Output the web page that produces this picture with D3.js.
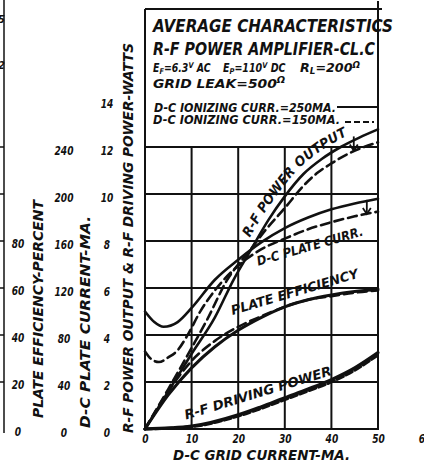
<!DOCTYPE html>
<html><head><meta charset="utf-8">
<script src="https://cdn.jsdelivr.net/npm/d3@7"></script>
<style>
body{margin:0;background:#fff;}
svg text{font-family:"DejaVu Sans Condensed","DejaVu Sans",sans-serif;font-style:italic;font-weight:bold;fill:#111;}
</style></head><body>
<svg id="c" width="424" height="471"></svg>
<script>
// ---------- data ----------
const gridTicks  = [0,10,20,30,40,50,60];        // D-C grid current, mA
const wattTicks  = [0,2,4,6,8,10,12,14];         // watts
const plateTicks = [0,40,80,120,160,200,240];    // plate current, mA
const effTicks   = [0,20,40,60,80];              // percent

// R-F power output (W)
const powerSolidX  = [0,5,10,15,19,22.5,26.5,30,34,38,42,46,50];
const powerSolidW  = [0,1.6,3.2,4.75,6.35,7.55,8.9,9.9,10.85,11.5,12.0,12.4,12.75];
const powerDashX   = [0,5,10,13.3,17.5,22.5,26,30,34,37,40,44,47,50];
const powerDashW   = [0,1.7,3.45,4.64,6.3,7.6,8.5,9.4,10.35,10.9,11.3,11.75,12.0,12.2];
// D-C plate current (mA)
const plateSolidX  = [0,2,4,7,10,15,20,25,30,35,40,45,50];
const plateSolidI  = [100,91,87,91,103,127,144,159,171,180,187,192,196];
const plateDashX   = [0,1.5,3,5,7,9,12,15,20,25,30,35,40,45,50];
const plateDashI   = [66,59,57,61,67,79,101,118,139,153,162,170,176,181,185];
// Plate efficiency (%)
const effX         = [0,5,10,15,20,25,30,35,40,45,50];
const effSolid     = [0,14.5,26,35,42,47.5,52,55,57,58.5,59.5];
const effDash      = [0,16,29,37.5,43.5,48,52,55,56.5,58,59];
// R-F driving power (W)
const driveX       = [0,10,20,25,30,35,40,45,50];
const driveSolid   = [0,0.12,0.6,0.95,1.33,1.7,2.1,2.6,3.25];
const driveDash    = [0,0.1,0.55,0.88,1.25,1.62,2.0,2.5,3.15];

const titleLines = ["AVERAGE CHARACTERISTICS","R-F POWER AMPLIFIER-CL.C"];
const legendSolid = "D-C IONIZING CURR.=250MA.";
const legendDash  = "D-C IONIZING CURR.=150MA.";

// ---------- scales ----------
const svg = d3.select("#c");
const x  = d3.scaleLinear().domain([0,50]).range([145,378]);
const yW = d3.scaleLinear().domain([0,14]).range([429,100]);
const yI = d3.scaleLinear().domain([0,280]).range([429,100]);
const yE = d3.scaleLinear().domain([0,140]).range([429,100]);
const boxTop = 9;
const ink = "#111";

const zip = (xs, ys) => xs.map((v,i)=>[v, ys[i]]);

// ---------- left page fragment ----------
svg.append("line").attr("x1",4).attr("x2",4).attr("y1",0).attr("y2",433)
  .attr("stroke",ink).attr("stroke-width",1.5);
svg.append("g").selectAll("line").data(wattTicks.filter(d=>d>0&&d<=12)).join("line")
  .attr("x1",0).attr("x2",4).attr("y1",d=>yW(d)).attr("y2",d=>yW(d))
  .attr("stroke",ink).attr("stroke-width",1.5);
svg.append("text").attr("x",-2).attr("y",23).attr("font-size",11).attr("font-weight","normal").text("5");
svg.append("text").attr("x",-2).attr("y",69).attr("font-size",11).attr("font-weight","normal").text("2");

// ---------- grid ----------
const g = svg.append("g").attr("stroke",ink).attr("stroke-width",2);
g.selectAll("line.v").data(gridTicks.filter(d=>d>0&&d<50)).join("line")
  .attr("x1",d=>x(d)).attr("x2",d=>x(d)).attr("y1",yW(12)).attr("y2",yW(0));
g.selectAll("line.h").data(wattTicks.filter(d=>d>0&&d<=12)).join("line")
  .attr("x1",x(0)).attr("x2",x(50)).attr("y1",d=>yW(d)).attr("y2",d=>yW(d));
g.append("line").attr("x1",x(0)).attr("x2",x(0)).attr("y1",boxTop).attr("y2",yW(0)+1);
g.append("line").attr("x1",x(50)).attr("x2",x(50)).attr("y1",boxTop-8).attr("y2",yW(0)+1);
g.append("line").attr("x1",x(0)).attr("x2",x(50)+4).attr("y1",boxTop).attr("y2",boxTop);
g.append("line").attr("x1",x(0)).attr("x2",x(50)).attr("y1",yW(0)).attr("y2",yW(0));

// ---------- axes ----------
function styleAxis(sel){
  sel.select(".domain").remove();
  sel.selectAll("text").attr("text-anchor","middle").attr("font-size",12.5)
     .attr("font-family",null).attr("fill",ink)
     .attr("textLength",function(){ return this.textContent.length*6.3; })
     .attr("lengthAdjust","spacingAndGlyphs");
}
svg.append("g").attr("transform",`translate(0,${yW(0)})`)
  .call(d3.axisBottom(x).tickValues(gridTicks).tickSize(0).tickPadding(5))
  .call(styleAxis);
svg.append("g").attr("transform","translate(107,3)")
  .call(d3.axisLeft(yW).tickValues(wattTicks).tickSize(0).tickPadding(0))
  .call(styleAxis);
svg.append("g").attr("transform","translate(64,3)")
  .call(d3.axisLeft(yI).tickValues(plateTicks).tickSize(0).tickPadding(0))
  .call(styleAxis);
svg.append("g").attr("transform","translate(18,2)")
  .call(d3.axisLeft(yE).tickValues(effTicks).tickSize(0).tickPadding(0))
  .call(styleAxis);

// axis titles
function vTitle(tx, ty, len, txt){
  svg.append("text").attr("transform",`translate(${tx},${ty}) rotate(-90)`)
    .attr("text-anchor","middle").attr("font-size",13.5)
    .attr("textLength",len).attr("lengthAdjust","spacingAndGlyphs").text(txt);
}
vTitle(43,309,218,"PLATE EFFICIENCY-PERCENT");
vTitle(90,322,212,"D-C PLATE CURRENT-MA.");
vTitle(133,238,390,"R-F POWER OUTPUT & R-F DRIVING POWER-WATTS");
svg.append("text").attr("x",173).attr("y",460).attr("font-size",13.5)
  .attr("textLength",177).attr("lengthAdjust","spacingAndGlyphs").text("D-C GRID CURRENT-MA.");

// ---------- legend box text ----------
svg.append("text").attr("x",153).attr("y",32).attr("font-size",18.5).attr("font-weight","normal")
  .attr("textLength",240).attr("lengthAdjust","spacingAndGlyphs").text(titleLines[0]);
svg.append("text").attr("x",153).attr("y",55).attr("font-size",18.5).attr("font-weight","normal")
  .attr("textLength",222).attr("lengthAdjust","spacingAndGlyphs").text(titleLines[1]);

// fit a (multi-tspan) text into a given width with a horizontal scale
function fitText(t, x0, y0, width){
  const w = t.node().getBBox().width;
  t.attr("transform",`translate(${x0},${y0}) scale(${width/w},1)`);
}
function param(x0, width, main, sub, val, sup, tail){
  const t = svg.append("text").attr("font-size",11.5);
  t.append("tspan").text(main);
  t.append("tspan").attr("font-size",8).attr("dy",2).text(sub);
  t.append("tspan").attr("dy",-2).text("="+val);
  t.append("tspan").attr("font-size",8).attr("dy",-4).text(sup);
  if(tail) t.append("tspan").attr("dy",4).text(" "+tail);
  fitText(t, x0, 71.5, width);
}
param(153,58,"E","F","6.3","V","AC");
param(223,63,"E","P","110","V","DC");
param(300,60,"R","L","200","Ω",null);
const gl = svg.append("text").attr("font-size",12);
gl.append("tspan").text("GRID LEAK=500");
gl.append("tspan").attr("font-size",8.5).attr("dy",-5).text("Ω");
fitText(gl,153,88,133);

svg.append("text").attr("x",154).attr("y",112).attr("font-size",12)
  .attr("textLength",182).attr("lengthAdjust","spacingAndGlyphs").text(legendSolid);
svg.append("text").attr("x",153).attr("y",124).attr("font-size",12)
  .attr("textLength",187).attr("lengthAdjust","spacingAndGlyphs").text(legendDash);
svg.append("line").attr("x1",337).attr("x2",x(50)).attr("y1",107).attr("y2",107)
  .attr("stroke",ink).attr("stroke-width",2.2);
svg.append("line").attr("x1",345).attr("x2",374).attr("y1",122).attr("y2",122)
  .attr("stroke",ink).attr("stroke-width",2.2).attr("stroke-dasharray","6,3");

// ---------- curves ----------
const curveG = svg.append("g").attr("fill","none").attr("stroke",ink)
  .attr("stroke-width",2.6).attr("stroke-linecap","round");
const lineW = d3.line().x(d=>x(d[0])).y(d=>yW(d[1])).curve(d3.curveMonotoneX);
const lineI = d3.line().x(d=>x(d[0])).y(d=>yI(d[1])).curve(d3.curveMonotoneX);
const lineE = d3.line().x(d=>x(d[0])).y(d=>yE(d[1])).curve(d3.curveMonotoneX);
const dash = "9,5";

curveG.append("path").attr("id","pwrSolid").attr("d",lineW(zip(powerSolidX,powerSolidW)));
curveG.append("path").attr("d",lineW(zip(powerDashX,powerDashW))).attr("stroke-dasharray",dash);
curveG.append("path").attr("d",lineI(zip(plateSolidX,plateSolidI)));
curveG.append("path").attr("d",lineI(zip(plateDashX,plateDashI))).attr("stroke-dasharray",dash);
curveG.append("path").attr("d",lineE(zip(effX,effSolid))).attr("stroke-width",3);
curveG.append("path").attr("d",lineE(zip(effX,effDash))).attr("stroke-dasharray",dash);
curveG.append("path").attr("d",lineW(zip(driveX,driveSolid))).attr("stroke-width",3.2);
curveG.append("path").attr("d",lineW(zip(driveX,driveDash))).attr("stroke-dasharray","7,3").attr("stroke-width",3);

// ---------- curve labels ----------
const tmp = svg.append("path").attr("d",lineW(zip(powerSolidX,powerSolidW).filter(d=>d[0]<=22.5)));
const off = tmp.node().getTotalLength(); tmp.remove();
svg.append("text").attr("font-size",13.5).attr("dy",-7)
  .append("textPath").attr("href","#pwrSolid").attr("startOffset",off+12)
  .attr("textLength",140).attr("lengthAdjust","spacingAndGlyphs").text("R-F POWER OUTPUT");

function straightLabel(px, py, ang, len, size, txt){
  svg.append("text").attr("transform",`translate(${px},${py}) rotate(${ang})`)
    .attr("font-size",size).attr("textLength",len).attr("lengthAdjust","spacingAndGlyphs").text(txt);
}
straightLabel(x(24.3), yI(139), -16, 110, 13, "D-C PLATE CURR.");
straightLabel(x(18.8), yE(48.5), -16.5, 132, 13, "PLATE EFFICIENCY");
straightLabel(x(8.8), yW(0.4), -17, 153, 13, "R-F DRIVING POWER");

// brackets / arrows
const arr = svg.append("g").attr("stroke",ink).attr("stroke-width",1.8).attr("fill","none");
function bracket(xv, yTop, yBot){
  arr.append("line").attr("x1",x(xv)).attr("x2",x(xv)).attr("y1",yTop).attr("y2",yBot);
  arr.append("path").attr("d",`M${x(xv)-4},${yBot-6}L${x(xv)},${yBot}L${x(xv)+4},${yBot-6}`);
}
bracket(47.6, yI(195), yI(183));
bracket(44.8, yW(12.45), yW(11.85));
</script></body></html>
